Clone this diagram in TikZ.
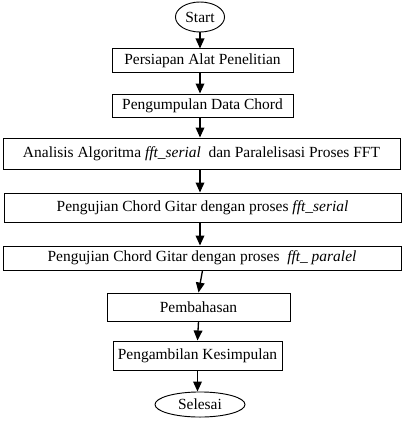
\documentclass[tikz,border=0pt]{standalone}
\usepackage{fontspec}
\setmainfont{Liberation Serif}
\usetikzlibrary{arrows.meta,shapes.geometric}
\begin{document}
\begin{tikzpicture}[x=0.75pt,y=-0.75pt,
    langkah/.style={draw,line width=0.7pt,inner sep=0pt,font=\fontsize{11.6}{13}\selectfont},
    ujung/.style={draw,ellipse,line width=0.7pt,inner sep=0pt,font=\fontsize{11.6}{13}\selectfont},
    panah/.style={line width=1pt,-{Triangle[length=7.5pt,width=6.5pt]}}]
\useasboundingbox (0,0) rectangle (404,435);

% Marking start and end
\node [ujung,minimum width=36.8pt,minimum height=22.5pt] (start) at (200,17) {Start};
\node [ujung,minimum width=67.5pt,minimum height=18.8pt] (selesai) at (200,404.5) {Selesai};

% Drawing steps
\node [langkah,minimum width=135.8pt,minimum height=17.3pt] (alat) at (202.5,60.5) {Persiapan Alat Penelitian};
\node [langkah,minimum width=135.8pt,minimum height=17.3pt] (data) at (202.5,105.5) {Pengumpulan Data Chord};
\node [langkah,minimum width=297.8pt,minimum height=23.3pt] (analisis) at (201.5,153.5) {Analisis Algoritma \textit{fft\_serial}\ \ dan Paralelisasi Proses FFT};
\node [langkah,minimum width=297.8pt,minimum height=21.8pt] (serial) at (202.5,207.5) {Pengujian Chord Gitar dengan proses \textit{fft\_serial}};
\node [langkah,minimum width=298.5pt,minimum height=18pt] (paralel) at (202,258) {Pengujian Chord Gitar dengan proses\ \ \textit{fft\_ paralel}};
\node [langkah,minimum width=137.3pt,minimum height=21pt] (bahas) at (198.5,307) {Pembahasan};
\node [langkah,minimum width=126.8pt,minimum height=21.8pt] (simpul) at (197.5,355.5) {Pengambilan Kesimpulan};

% Drawing arrows
\draw [panah] (start) -- (start |- alat.north);
\draw [panah] (alat.south -| start) -- (data.north -| start);
\draw [panah] (data.south -| start) -- (analisis.north -| start);
\draw [panah] (analisis.south -| start) -- (serial.north -| start);
\draw [panah] (serial.south -| start) -- (paralel.north -| start);
\draw [panah] (paralel.south -| alat) -- (bahas.north);
\draw [panah] (bahas.south) -- (simpul.north);
\draw [panah] (simpul.south) -- (selesai.north -| simpul);
\end{tikzpicture}
\end{document}
